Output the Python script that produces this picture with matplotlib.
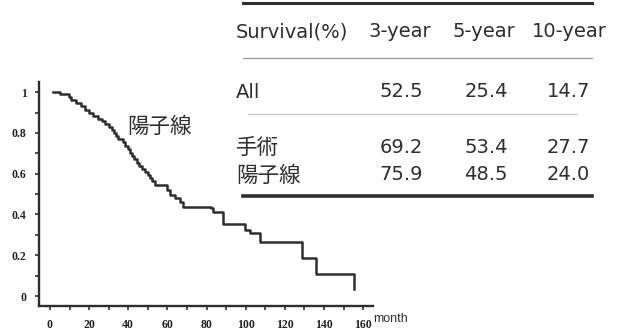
import matplotlib
matplotlib.use("Agg")
import matplotlib.pyplot as plt
from matplotlib.ticker import MultipleLocator, FixedLocator

# Kaplan-Meier curve (陽子線)
months = [1.5, 5, 9.5, 11, 13.5, 16, 18, 20, 22, 24.5, 26.5, 28, 30, 31.5, 32.5,
          33.5, 34.5, 37.5, 38.5, 40, 41, 42, 43, 44.5, 45.5, 47, 48.5, 50, 51,
          52, 53.6, 59.6, 61.3, 63.8, 66.4, 68.1, 82, 83.5, 88.5, 99.6, 102,
          107.3, 128.5, 135.9, 155.3]
survival = [1.0, 0.99, 0.975, 0.96, 0.945, 0.93, 0.915, 0.897, 0.885, 0.87,
            0.857, 0.845, 0.83, 0.814, 0.80, 0.785, 0.772, 0.755, 0.735, 0.72,
            0.70, 0.685, 0.67, 0.655, 0.64, 0.625, 0.61, 0.595, 0.58, 0.565,
            0.544, 0.52, 0.495, 0.479, 0.462, 0.437, 0.43, 0.41, 0.351, 0.322,
            0.307, 0.266, 0.185, 0.108, 0.035]

x_ticks = [0, 20, 40, 60, 80, 100, 120, 140, 160]
y_ticks = [0, 0.2, 0.4, 0.6, 0.8, 1]
y_tick_labels = ["0", "0.2", "0.4", "0.6", "0.8", "1"]

# survival table
col_headers = ["3-year", "5-year", "10-year"]
row_labels = ["All", "手術", "陽子線"]
all_vals = ["52.5", "25.4", "14.7"]
surgery_vals = ["69.2", "53.4", "27.7"]
proton_vals = ["75.9", "48.5", "24.0"]

ink = "#2e2e2e"
W, H = 617, 331

fig = plt.figure(figsize=(W / 100, H / 100), dpi=100)
fig.patch.set_facecolor("white")

# --- KM plot ---
ax = fig.add_axes([39 / W, 1 - 306 / H, (373 - 39) / W, (306 - 82) / H])
ax.step(months, survival, where="post", color=ink, lw=1.8)
ax.set_xlim(-5.6, 165)
ax.set_ylim(-0.049, 1.05)
for s in ["top", "right"]:
    ax.spines[s].set_visible(False)
for s in ["left", "bottom"]:
    ax.spines[s].set_linewidth(1.7)
    ax.spines[s].set_color(ink)

ax.xaxis.set_major_locator(FixedLocator(x_ticks))
ax.xaxis.set_minor_locator(MultipleLocator(10))
ax.yaxis.set_major_locator(FixedLocator(y_ticks))
ax.yaxis.set_minor_locator(MultipleLocator(0.1))
ax.set_yticklabels(y_tick_labels)
ax.tick_params(which="both", direction="out", length=3, width=1.2, color=ink)
ax.tick_params(axis="x", which="major", pad=6)
ax.tick_params(axis="y", which="major", pad=6)
for lab in ax.get_xticklabels() + ax.get_yticklabels():
    lab.set_family("Liberation Serif")
    lab.set_weight("bold")
    lab.set_fontsize(8.5)
    lab.set_color("#222222")

ax.text(39.5, 0.83, "陽子線", family=["Noto Sans CJK JP", "DejaVu Sans"],
        fontsize=15.5, color=ink, va="center", ha="left")

# --- table, laid out in pixel coordinates ---
tab = fig.add_axes([0, 0, 1, 1], facecolor="none")
tab.set_xlim(0, W)
tab.set_ylim(H, 0)
tab.axis("off")

tab.plot([243, 592], [3, 3], color=ink, lw=2.2)
tab.plot([243, 592], [57.5, 57.5], color="#9a9a9a", lw=0.9)
tab.plot([248, 577], [114, 114], color="#c4c4c4", lw=0.9)
tab.plot([243, 592], [196, 196], color=ink, lw=2.6)

latin = dict(family="DejaVu Sans", fontsize=14, color=ink, va="baseline")
cjk = dict(family=["Noto Sans CJK JP", "DejaVu Sans"], fontsize=15.5,
           color=ink, va="baseline")

tab.text(236, 37, "Survival(%)", ha="left", **latin)
for x, h in zip([369, 453, 532], col_headers):
    tab.text(x, 37, h, ha="left", **latin)

tab.text(236, 98, row_labels[0], ha="left", **latin)
tab.text(236, 154, row_labels[1], ha="left", **cjk)
tab.text(236, 182, row_labels[2], ha="left", **cjk)

val_x = [423, 508, 590]
for y, vals in zip([97, 153, 180], [all_vals, surgery_vals, proton_vals]):
    for x, v in zip(val_x, vals):
        tab.text(x, y, v, ha="right", **latin)

# x axis unit
tab.text(373, 319, "month", family="Liberation Sans", fontsize=9,
         color=ink, ha="left", va="center")

fig.savefig("out.png", dpi=100)
